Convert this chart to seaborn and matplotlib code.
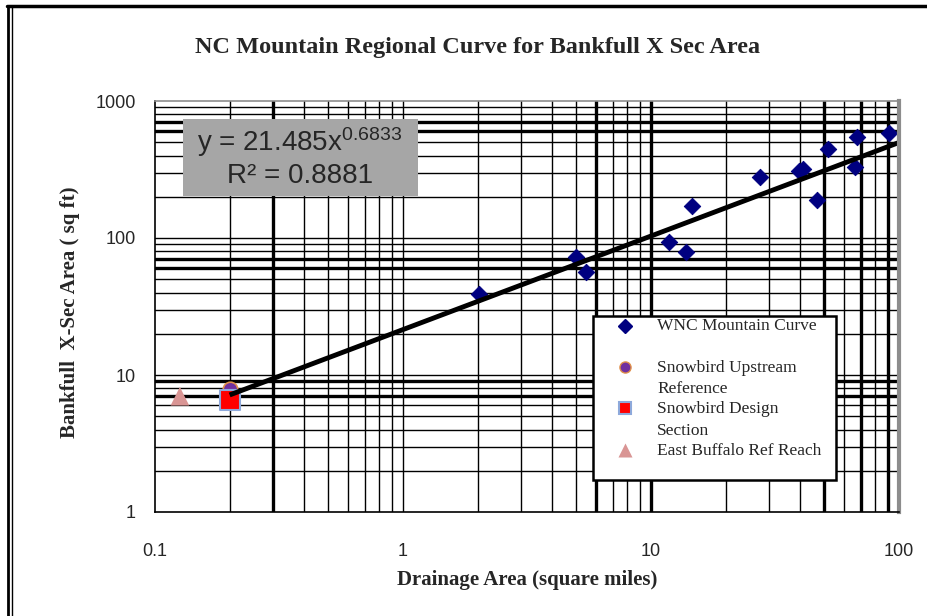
import matplotlib
matplotlib.use("Agg")
import matplotlib.pyplot as plt
import seaborn as sns
import pandas as pd
from matplotlib.patches import Rectangle
from matplotlib.lines import Line2D

# ---- data ----
wnc_area = [2.02, 5.0, 5.47, 11.8, 13.8, 14.6, 27.5, 39.5, 41.0, 46.7, 51.5, 66.5, 67.8, 91.4]
wnc_xsec = [39, 73, 56, 94, 79, 172, 277, 310, 317, 189, 449, 331, 549, 587]
upstream_area = [0.2]
upstream_xsec = [7.9]
design_area = [0.2]
design_xsec = [6.6]
buffalo_area = [0.126]
buffalo_xsec = [7.0]
trend_x = [0.2, 100]
trend_y = [7.15, 498]

x_ticks = [0.1, 1, 10, 100]
x_labels = ["0.1", "1", "10", "100"]
y_ticks = [1, 10, 100, 1000]
y_labels = ["1", "10", "100", "1000"]

legend_labels = ["WNC Mountain Curve", "Snowbird Upstream\nReference",
                 "Snowbird Design\nSection", "East Buffalo Ref Reach"]

sns.set_style("white")
plt.rcParams['mathtext.default'] = 'regular'

W, H = 927, 616
def fx(px):
    return px / W
def fy(py):
    return 1 - py / H

fig = plt.figure(figsize=(W / 100, H / 100), dpi=100)
ax = fig.add_axes([fx(155), fy(512), (899 - 155) / W, (512 - 101) / H])
ax.set_xscale("log")
ax.set_yscale("log")
ax.set_xlim(0.1, 100)
ax.set_ylim(1, 1000)

# grid (minor lines, some rendered thicker as in the source)
thick_x = {0.3, 6, 10, 50, 70, 90}
thick_y = {600, 700, 60, 70, 7, 9}
for dec in [0.1, 1, 10]:
    for m in range(1, 10):
        v = round(dec * m, 6)
        if v <= 0.1:
            continue
        ax.axvline(v, color="black", lw=2.4 if v in thick_x else 1.0, zorder=1)
for dec in [1, 10, 100]:
    for m in range(1, 10):
        v = round(dec * m, 6)
        if v <= 1:
            continue
        ax.axhline(v, color="black", lw=2.4 if v in thick_y else 1.0, zorder=1)

df = pd.DataFrame({"area": wnc_area, "xsec": wnc_xsec})
sns.scatterplot(data=df, x="area", y="xsec", ax=ax, marker="D", s=70,
                color="#000080", edgecolor="#000080", zorder=5, legend=False)
ax.scatter(upstream_area, upstream_xsec, marker="o", s=110, color="#7030a0",
           edgecolor="#e0904a", linewidth=1.2, zorder=5)
ax.scatter(design_area, design_xsec, marker="s", s=190, color="#ff0000",
           edgecolor="#8ea9db", linewidth=1.5, zorder=6)
ax.scatter(buffalo_area, buffalo_xsec, marker="^", s=180, color="#d99594",
           edgecolor="none", zorder=5)
ax.plot(trend_x, trend_y, color="black", lw=3.5, zorder=7, solid_capstyle="butt")

ax.set_xticks(x_ticks)
ax.set_xticklabels(x_labels)
ax.set_yticks(y_ticks)
ax.set_yticklabels(y_labels)
ax.minorticks_off()
ax.tick_params(axis="both", which="major", direction="out", length=6, width=1,
               color="black", labelsize=13, pad=8)
ax.tick_params(axis="x", pad=16)
for lab in ax.get_xticklabels() + ax.get_yticklabels():
    lab.set_fontfamily("Liberation Sans")
ax.set_xlabel("")
ax.set_ylabel("")

fig.text(fx(527), fy(580), "Drainage Area (square miles)", ha="center", va="center",
         fontfamily="Liberation Serif", fontweight="bold", fontsize=15)
fig.text(fx(70), fy(312), "Bankfull  X-Sec Area ( sq ft)", ha="center", va="center",
         rotation=90, fontfamily="Liberation Serif", fontweight="bold", fontsize=15)
fig.text(fx(478), fy(48), "NC Mountain Regional Curve for Bankfull X Sec Area",
         ha="center", va="center", fontfamily="Liberation Serif",
         fontweight="bold", fontsize=17.5)

for side in ["left", "bottom"]:
    ax.spines[side].set_color("black")
    ax.spines[side].set_linewidth(1.2)
ax.spines["top"].set_color("#8c8c8c")
ax.spines["top"].set_linewidth(1.2)
ax.spines["right"].set_color("#8c8c8c")
ax.spines["right"].set_linewidth(3)
for s in ax.spines.values():
    s.set_zorder(8)

# equation box
fig.add_artist(Rectangle((fx(183), fy(196)), (418 - 183) / W, (196 - 119) / H,
                         transform=fig.transFigure, facecolor="#a6a6a6",
                         edgecolor="none", zorder=9))
fig.text(fx(300), fy(142), "y = 21.485x$^{0.6833}$", ha="center", va="center",
         fontfamily="Liberation Sans", fontsize=20, zorder=10)
fig.text(fx(300), fy(176), "R² = 0.8881", ha="center", va="center",
         fontfamily="Liberation Sans", fontsize=20, zorder=10)

# legend (drawn as a framed box)
fig.add_artist(Rectangle((fx(593), fy(480)), (836 - 593) / W, (480 - 316) / H,
                         transform=fig.transFigure, facecolor="white",
                         edgecolor="black", lw=1.8, zorder=11))
marker_y = [326, 367, 408, 450]
text_y = [[326], [368, 389], [409, 431], [451]]
styles = [
    dict(marker="D", markersize=7, color="#000080"),
    dict(marker="o", markersize=8, markerfacecolor="#7030a0", markeredgecolor="#e0904a"),
    dict(marker="s", markersize=9, markerfacecolor="#ff0000", markeredgecolor="#8ea9db",
         markeredgewidth=1.5),
    dict(marker="^", markersize=10, markerfacecolor="#d99594", markeredgecolor="none"),
]
for my, tys, st, lab in zip(marker_y, text_y, styles, legend_labels):
    fig.add_artist(Line2D([fx(625)], [fy(my)], ls="none", transform=fig.transFigure,
                          zorder=12, **st))
    for ty, part in zip(tys, lab.split("\n")):
        fig.text(fx(657), fy(ty), part, ha="left", va="center",
                 fontfamily="Liberation Serif", fontsize=12.5, zorder=12)

# outer figure border (top and double left edge)
fig.add_artist(Line2D([fx(7), 1.0], [fy(6), fy(6)], transform=fig.transFigure,
                      color="black", lw=2.5))
fig.add_artist(Line2D([fx(8), fx(8)], [0, fy(6)], transform=fig.transFigure,
                      color="black", lw=2.0))
fig.add_artist(Line2D([fx(11.5), fx(11.5)], [0, fy(7)], transform=fig.transFigure,
                      color="black", lw=1.0))

fig.savefig("out.png", dpi=100)
